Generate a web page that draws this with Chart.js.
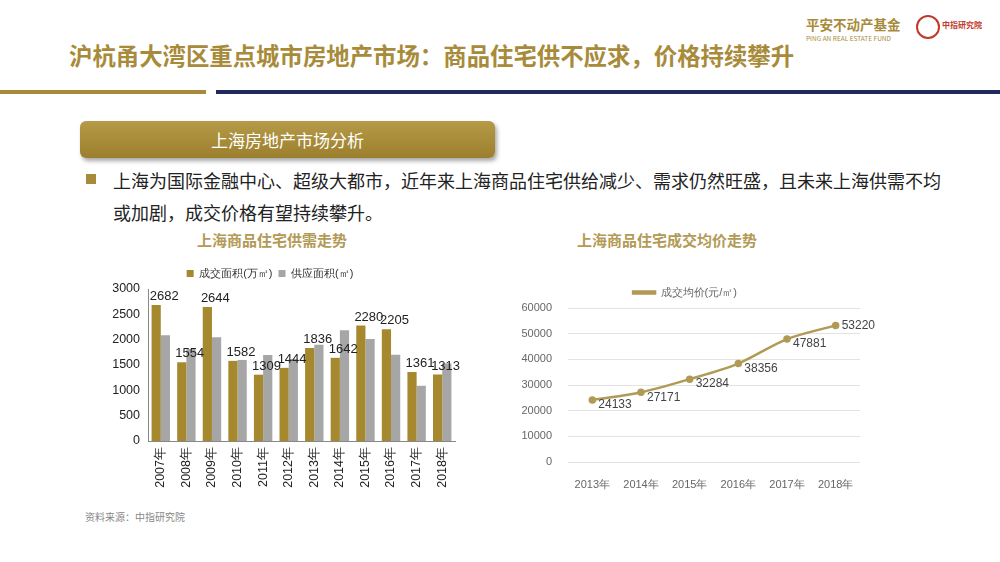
<!DOCTYPE html>
<html>
<head>
<meta charset="utf-8">
<script src="https://cdn.jsdelivr.net/npm/chart.js@4"></script>
<style>
  body { margin:0; width:1000px; height:562px; background:#fff; position:relative; overflow:hidden;
         font-family:"Noto Sans CJK SC","Noto Sans",sans-serif; }
  .abs { position:absolute; }
  #title { left:69px; top:38px; font-size:23.4px; font-weight:bold; color:#A88B3A; white-space:nowrap; }
  #lineGold { left:0; top:90px; width:206px; height:4px; background:#A88B3A; }
  #lineNavy { left:216px; top:90px; width:784px; height:4px; background:#1F2A5C; }
  #box { left:80px; top:121px; width:415px; height:37px; border-radius:6px;
         background:linear-gradient(#B59A47,#9C7F2C); box-shadow:2px 3px 4px rgba(0,0,0,0.35);
         color:#fff; font-size:17px; line-height:37px; text-align:center; }
  #bullet { left:86px; top:174px; width:10px; height:10px; background:#A88B3A; }
  #text { left:113px; top:164px; width:860px; font-size:18px; line-height:32px; color:#222; }
  .ctitle { top:229px; font-size:15px; font-weight:bold; color:#B39A55; white-space:nowrap; }
  #src { left:85px; top:509px; font-size:10px; color:#888; }
  #logo1 { left:806px; top:14px; font-size:13.5px; font-weight:bold; color:#A88B3A; }
  #logo2 { left:806px; top:33px; font-size:6.5px; color:#A88B3A; }
  #circ { left:916px; top:15px; width:20px; height:20px; border-radius:50%; border:2px solid #C0392B; }
  #logo3 { left:942px; top:19px; font-size:8px; font-weight:bold; color:#C0392B; }
</style>
</head>
<body>
<div class="abs" id="logo1">平安不动产基金</div>
<div class="abs" id="logo2">PING AN REAL ESTATE FUND</div>
<div class="abs" id="circ"></div>
<div class="abs" id="logo3">中指研究院</div>
<div class="abs" id="title">沪杭甬大湾区重点城市房地产市场：商品住宅供不应求，价格持续攀升</div>
<div class="abs" id="lineGold"></div>
<div class="abs" id="lineNavy"></div>
<div class="abs" id="box">上海房地产市场分析</div>
<div class="abs" id="bullet"></div>
<div class="abs" id="text">上海为国际金融中心、超级大都市，近年来上海商品住宅供给减少、需求仍然旺盛，且未来上海供需不均<br>或加剧，成交价格有望持续攀升。</div>
<div class="abs ctitle" style="left:197px">上海商品住宅供需走势</div>
<div class="abs ctitle" style="left:577px">上海商品住宅成交均价走势</div>
<div class="abs" style="left:85px;top:262px;width:380px;height:229px"><canvas id="c1"></canvas></div>
<div class="abs" style="left:510px;top:270px;width:410px;height:222px"><canvas id="c2"></canvas></div>
<div class="abs" id="src">资料来源：中指研究院</div>
<script>
const years1 = ["2007年","2008年","2009年","2010年","2011年","2012年","2013年","2014年","2015年","2016年","2017年","2018年"];
const dealArea = [2682,1554,2644,1582,1309,1444,1836,1642,2280,2205,1361,1313];
const supplyArea = [2085,1815,2050,1600,1695,1620,1900,2185,2015,1700,1090,1530];
const years2 = ["2013年","2014年","2015年","2016年","2017年","2018年"];
const avgPrice = [24133,27171,32284,38356,47881,53220];

const gold = '#A6892F';
const gray = '#A6A6A6';
const lineGold = '#B19A55';

const barLabels = {
  id:'barLabels',
  afterDatasetsDraw(chart){
    const ctx = chart.ctx;
    const meta = chart.getDatasetMeta(0);
    ctx.save();
    ctx.font = '13px "Liberation Sans", Arial, sans-serif';
    ctx.fillStyle = '#222';
    ctx.textAlign = 'center';
    ctx.textBaseline = 'bottom';
    meta.data.forEach((bar,i)=>{
      ctx.fillText(dealArea[i], bar.x + 8, bar.y - 2);
    });
    ctx.restore();
  }
};

const lineLabels = {
  id:'lineLabels',
  afterDatasetsDraw(chart){
    const ctx = chart.ctx;
    const meta = chart.getDatasetMeta(0);
    ctx.save();
    ctx.font = '12px "Liberation Sans", Arial, sans-serif';
    ctx.fillStyle = '#444';
    ctx.textAlign = 'left';
    ctx.textBaseline = 'middle';
    meta.data.forEach((pt,i)=>{
      ctx.fillText(avgPrice[i], pt.x + 6, pt.y + (i == avgPrice.length-1 ? 0 : 5));
    });
    ctx.restore();
  }
};

new Chart(document.getElementById('c1'), {
  type:'bar',
  data:{
    labels:years1,
    datasets:[
      {label:'成交面积(万㎡)', data:dealArea, backgroundColor:gold, categoryPercentage:0.72, barPercentage:1},
      {label:'供应面积(㎡)', data:supplyArea, backgroundColor:gray, categoryPercentage:0.72, barPercentage:1}
    ]
  },
  options:{
    responsive:true, maintainAspectRatio:false, animation:false,
    layout:{padding:{left:0,right:10,top:0,bottom:0}},
    plugins:{
      legend:{labels:{boxWidth:7, boxHeight:7, font:{size:11}, color:'#333', padding:6}},
      tooltip:{enabled:false}
    },
    scales:{
      x:{grid:{display:false, drawTicks:true, tickLength:4}, border:{color:'#888'},
         afterFit(s){ s.height = 50; },
         ticks:{minRotation:90, maxRotation:90, color:'#222', font:{size:12.5}, padding:2}},
      y:{min:0, max:3000, grid:{display:false, tickLength:4}, border:{color:'#888'},
         afterFit(s){ s.width = 63; },
         ticks:{stepSize:500, color:'#222', font:{size:12.5}, padding:4, callback:v=>v}}
    }
  },
  plugins:[barLabels]
});

new Chart(document.getElementById('c2'), {
  type:'line',
  data:{
    labels:years2,
    datasets:[
      {label:'成交均价(元/㎡)', data:avgPrice, borderColor:lineGold, backgroundColor:lineGold,
       borderWidth:2.5, pointRadius:2.5, pointBackgroundColor:lineGold, tension:0.3}
    ]
  },
  options:{
    responsive:true, maintainAspectRatio:false, animation:false,
    layout:{padding:{left:0,right:60,top:0,bottom:0}},
    plugins:{
      legend:{labels:{boxWidth:22, boxHeight:2, font:{size:11}, color:'#666', padding:17}},
      tooltip:{enabled:false}
    },
    scales:{
      x:{offset:true, grid:{display:false}, border:{display:false},
         afterFit(s){ s.height = 30; },
         ticks:{color:'#666', font:{size:11}, padding:8}},
      y:{min:0, max:60000, grid:{color:'#E3E3E3', drawTicks:false}, border:{display:false},
         afterFit(s){ s.width = 58; },
         ticks:{stepSize:10000, color:'#666', font:{size:11}, padding:16, callback:v=>v}}
    }
  },
  plugins:[lineLabels]
});
</script>
</body>
</html>
